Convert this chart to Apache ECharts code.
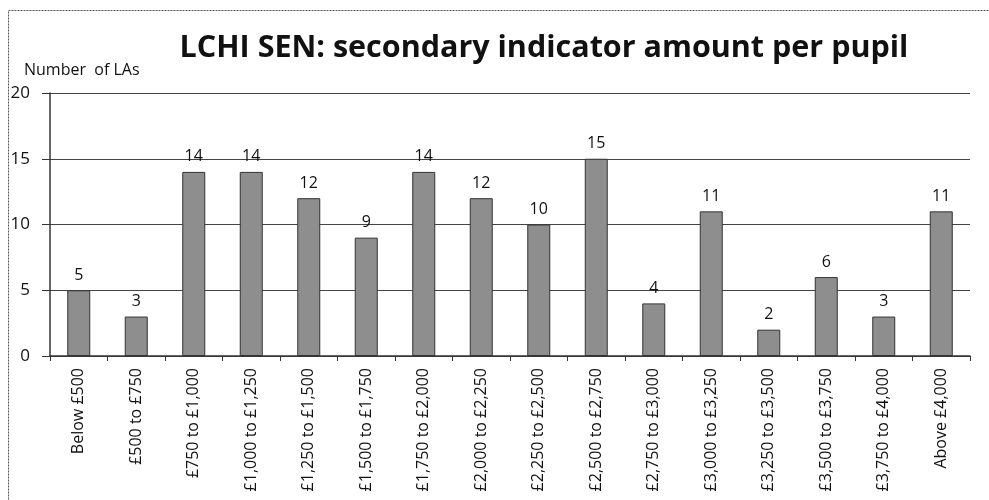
<!DOCTYPE html>
<html>
<head>
<meta charset="utf-8">
<title>LCHI SEN</title>
<script src="https://cdn.jsdelivr.net/npm/echarts@6/dist/echarts.min.js"></script>
<style>
  html, body { margin: 0; padding: 0; background: #fff; }
  #chart { width: 989px; height: 500px; }
</style>
</head>
<body>
<div id="chart"></div>
<script>
// bands of secondary indicator amount per pupil
const bands = [
    'Below £500', '£500 to £750', '£750 to £1,000', '£1,000 to £1,250',
    '£1,250 to £1,500', '£1,500 to £1,750', '£1,750 to £2,000', '£2,000 to £2,250',
    '£2,250 to £2,500', '£2,500 to £2,750', '£2,750 to £3,000', '£3,000 to £3,250',
    '£3,250 to £3,500', '£3,500 to £3,750', '£3,750 to £4,000', 'Above £4,000'
];
// number of LAs in each band
const laCounts = [5, 3, 14, 14, 12, 9, 14, 12, 10, 15, 4, 11, 2, 6, 3, 11];
const yTicks = [0, 5, 10, 15, 20];

const chart = echarts.init(document.getElementById('chart'));

chart.setOption({
    animation: false,
    textStyle: { fontFamily: '"Open Sans", sans-serif' },
    graphic: [{
        type: 'rect',
        shape: { x: 8.5, y: 10.5, width: 990, height: 495 },
        style: { fill: 'none', stroke: '#555', lineWidth: 1, lineDash: [2, 1] },
        silent: true
    }],
    title: {
        text: 'LCHI SEN: secondary indicator amount per pupil',
        left: 539, top: 28, textAlign: 'center',
        textStyle: { fontSize: 30.5, fontWeight: 'bold', color: '#111', fontFamily: '"Open Sans", sans-serif' }
    },
    grid: { left: 50, right: 19, top: 93, bottom: 144 },
    xAxis: {
        type: 'category',
        data: bands,
        axisLine: { lineStyle: { color: '#333', width: 1.5 } },
        axisTick: { show: true, length: 5, lineStyle: { color: '#333' } },
        axisLabel: { rotate: 90, color: '#111', fontSize: 16, margin: 12 }
    },
    yAxis: {
        type: 'value',
        min: yTicks[0], max: yTicks[yTicks.length - 1], interval: 5,
        name: 'Number  of LAs',
        nameLocation: 'end',
        nameGap: 15,
        nameTextStyle: { align: 'left', padding: [0, 0, 0, -26], fontSize: 16, color: '#111' },
        axisLine: { show: true, lineStyle: { color: '#333', width: 1.5 } },
        axisTick: { show: true, length: 8, lineStyle: { color: '#333' } },
        axisLabel: { color: '#111', fontSize: 17, margin: 20 },
        splitLine: { lineStyle: { color: '#444', width: 1 } }
    },
    series: [{
        type: 'bar',
        data: laCounts,
        barWidth: 23,
        itemStyle: { color: '#8e8e8e', borderColor: '#333', borderWidth: 1 },
        label: { show: true, position: 'top', distance: 7, color: '#111', fontSize: 16 }
    }]
});
</script>
</body>
</html>
